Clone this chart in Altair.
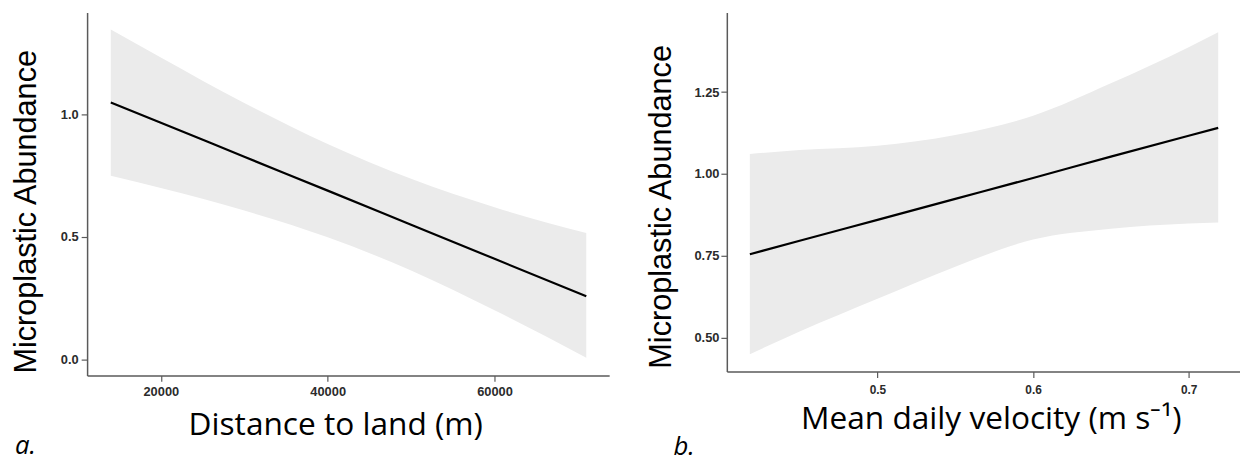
import altair as alt
import pandas as pd

# ---------------- data ----------------
# Panel a: microplastic abundance vs distance to land
dist_m = [14000, 20000, 30000, 40000, 50000, 60000, 71000]
dist_fit = [1.048, 0.966, 0.827, 0.689, 0.550, 0.411, 0.258]
dist_upper = [1.346, 1.232, 1.046, 0.879, 0.737, 0.621, 0.516]
dist_lower = [0.750, 0.700, 0.608, 0.499, 0.363, 0.201, 0.008]

# Panel b: microplastic abundance vs mean daily velocity
vel = [0.418, 0.45, 0.50, 0.55, 0.60, 0.65, 0.70, 0.719]
vel_fit = [0.755, 0.796, 0.860, 0.924, 0.988, 1.053, 1.117, 1.141]
vel_upper = [1.061, 1.073, 1.086, 1.119, 1.178, 1.277, 1.387, 1.433]
vel_lower = [0.450, 0.519, 0.619, 0.717, 0.800, 0.833, 0.849, 0.852]

dist_ticks = [20000, 40000, 60000]
abund_ticks_a = [0.0, 0.5, 1.0]
vel_ticks = [0.5, 0.6, 0.7]
abund_ticks_b = [0.5, 0.75, 1.0, 1.25]

panel_labels = ["a.", "b."]
y_title = "Microplastic Abundance"
x_titles = ["Distance to land (m)", "Mean daily velocity (m s\u207b\u00b9)"]

AXIS_GREY = "#5a5a5a"
LABEL_COL = "#2b2b2b"


def panel(x, fit, lo, hi, xdom, ydom, xticks, yticks, xfmt, yfmt, xtitle,
          label, w, h, xt_x, xt_y, yt_x, yt_y, xlab_size, xlab_pad,
          ylab_pad, lab_x, lab_y):
    df = pd.DataFrame({"x": x, "fit": fit, "lower": lo, "upper": hi})
    xscale = alt.Scale(domain=xdom, nice=False, zero=False)
    yscale = alt.Scale(domain=ydom, nice=False, zero=False)
    xaxis = alt.Axis(values=xticks, format=xfmt, title=xtitle,
                     titleFont="Open Sans", titleFontSize=32,
                     titleFontWeight="normal", titleColor="black",
                     titleX=xt_x, titleY=xt_y, titleAlign="center",
                     titleBaseline="alphabetic",
                     labelFont="Liberation Sans", labelFontSize=xlab_size,
                     labelFontWeight="bold", labelColor=LABEL_COL,
                     labelPadding=xlab_pad, tickSize=6, tickColor=AXIS_GREY,
                     domainColor=AXIS_GREY, domainWidth=1.5, tickWidth=1.2,
                     grid=False, labelFlush=False)
    yaxis = alt.Axis(values=yticks, format=yfmt, title=y_title,
                     titleFont="Liberation Sans", titleFontSize=31,
                     titleFontWeight="normal", titleColor="black",
                     titleX=yt_x, titleY=yt_y, titleAngle=270,
                     titleAlign="center", titleBaseline="alphabetic",
                     labelFont="Liberation Sans", labelFontSize=13,
                     labelFontWeight="bold", labelColor=LABEL_COL,
                     labelPadding=ylab_pad, tickSize=6, tickColor=AXIS_GREY,
                     domainColor=AXIS_GREY, domainWidth=1.5, tickWidth=1.2,
                     grid=False, labelFlush=False)
    band = alt.Chart(df).mark_area(color="#EBEBEB", interpolate="monotone").encode(
        x=alt.X("x:Q", scale=xscale, axis=xaxis),
        y=alt.Y("lower:Q", scale=yscale, axis=yaxis),
        y2="upper:Q",
    )
    line = alt.Chart(df).mark_line(color="black", strokeWidth=2.2,
                                   interpolate="monotone").encode(
        x="x:Q", y="fit:Q"
    )
    lab = alt.Chart(pd.DataFrame({"t": [label]})).mark_text(
        font="Open Sans", fontSize=26, fontStyle="italic", align="left",
        baseline="alphabetic", color="black"
    ).encode(x=alt.value(lab_x), y=alt.value(lab_y), text="t:N")
    return alt.layer(band, line, lab).properties(width=w, height=h)


pa = panel(dist_m, dist_fit, dist_lower, dist_upper,
           [11160, 73744], [-0.0645, 1.415], dist_ticks, abund_ticks_a,
           "d", ".1f", x_titles[0], panel_labels[0], 528, 367,
           251, 60, -52, 201, 13, 4, 3, -73, 446)

pb = panel(vel, vel_fit, vel_lower, vel_upper,
           [0.4032, 0.733], [0.397, 1.493], vel_ticks, abund_ticks_b,
           ".1f", ".2f", x_titles[1], panel_labels[1], 519, 363,
           267, 58, -57, 196, 12, 7, 2, -54, 447)

chart = alt.hconcat(pa, pb, spacing=36).properties(
    padding={"left": 2, "top": 2, "right": 0, "bottom": 6},
    background="white",
).configure_view(stroke=None)

chart.save("out.html", embed_options={"renderer": "svg", "actions": False})
